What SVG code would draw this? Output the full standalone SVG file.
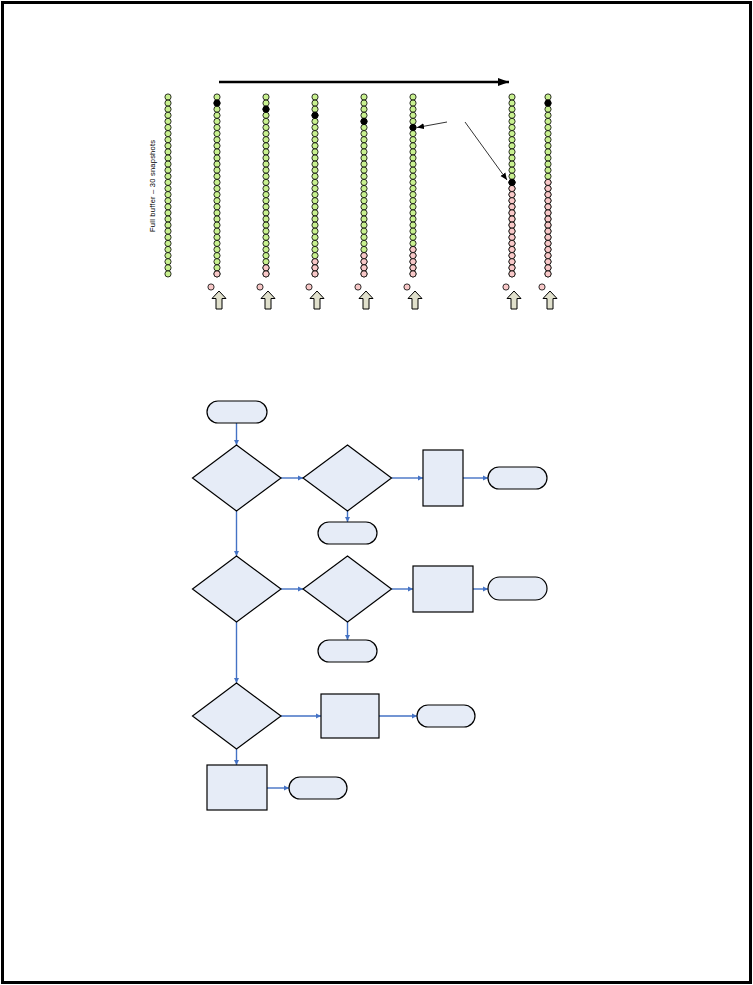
<svg xmlns="http://www.w3.org/2000/svg" xmlns:xlink="http://www.w3.org/1999/xlink" width="753" height="985" viewBox="0 0 753 985">
<style>
.g{fill:#c8f08f;stroke:#000;stroke-width:0.8}
.p{fill:#f8c8c8;stroke:#000;stroke-width:0.8}
.k{fill:#000;stroke:#000;stroke-width:0.8}
.ua{fill:#e0e0cc;stroke:#000;stroke-width:1}
.node{fill:#e6ecf7;stroke:#000;stroke-width:1.2}
.conn{stroke:#4472c4;stroke-width:1.4;fill:none;marker-end:url(#ah)}
.lbl{font-family:"Liberation Sans",Arial,sans-serif;font-size:7.5px;fill:#000}
</style>
<defs>
<marker id="ah" markerWidth="6" markerHeight="6" refX="5" refY="3" orient="auto" markerUnits="userSpaceOnUse">
<path d="M0,0.5 L5,3 L0,5.5 Z" fill="#4472c4"/>
</marker>
<marker id="bh" markerWidth="8" markerHeight="8" refX="7" refY="4" orient="auto" markerUnits="userSpaceOnUse">
<path d="M0,1 L7,4 L0,7 Z" fill="#000"/>
</marker>
<marker id="th" markerWidth="12" markerHeight="10" refX="11" refY="5" orient="auto" markerUnits="userSpaceOnUse">
<path d="M0,1 L11,5 L0,9 Z" fill="#000"/>
</marker>
<g id="col">
<circle class="g" cx="0" cy="97" r="3.1"/><circle class="g" cx="0" cy="103.1" r="3.1"/><circle class="g" cx="0" cy="109.2" r="3.1"/><circle class="g" cx="0" cy="115.3" r="3.1"/><circle class="g" cx="0" cy="121.4" r="3.1"/><circle class="g" cx="0" cy="127.5" r="3.1"/><circle class="g" cx="0" cy="133.6" r="3.1"/><circle class="g" cx="0" cy="139.7" r="3.1"/><circle class="g" cx="0" cy="145.8" r="3.1"/><circle class="g" cx="0" cy="151.9" r="3.1"/><circle class="g" cx="0" cy="158" r="3.1"/><circle class="g" cx="0" cy="164.1" r="3.1"/><circle class="g" cx="0" cy="170.2" r="3.1"/><circle class="g" cx="0" cy="176.3" r="3.1"/><circle class="g" cx="0" cy="182.4" r="3.1"/><circle class="g" cx="0" cy="188.5" r="3.1"/><circle class="g" cx="0" cy="194.6" r="3.1"/><circle class="g" cx="0" cy="200.7" r="3.1"/><circle class="g" cx="0" cy="206.8" r="3.1"/><circle class="g" cx="0" cy="212.9" r="3.1"/><circle class="g" cx="0" cy="219" r="3.1"/><circle class="g" cx="0" cy="225.1" r="3.1"/><circle class="g" cx="0" cy="231.2" r="3.1"/><circle class="g" cx="0" cy="237.3" r="3.1"/><circle class="g" cx="0" cy="243.4" r="3.1"/><circle class="g" cx="0" cy="249.5" r="3.1"/><circle class="g" cx="0" cy="255.6" r="3.1"/><circle class="g" cx="0" cy="261.7" r="3.1"/><circle class="g" cx="0" cy="267.8" r="3.1"/><circle class="g" cx="0" cy="273.9" r="3.1"/>
</g>
<g id="ptail16">
<circle class="p" cx="0" cy="182.4" r="3.1"/><circle class="p" cx="0" cy="188.5" r="3.1"/><circle class="p" cx="0" cy="194.6" r="3.1"/><circle class="p" cx="0" cy="200.7" r="3.1"/><circle class="p" cx="0" cy="206.8" r="3.1"/><circle class="p" cx="0" cy="212.9" r="3.1"/><circle class="p" cx="0" cy="219" r="3.1"/><circle class="p" cx="0" cy="225.1" r="3.1"/><circle class="p" cx="0" cy="231.2" r="3.1"/><circle class="p" cx="0" cy="237.3" r="3.1"/><circle class="p" cx="0" cy="243.4" r="3.1"/><circle class="p" cx="0" cy="249.5" r="3.1"/><circle class="p" cx="0" cy="255.6" r="3.1"/><circle class="p" cx="0" cy="261.7" r="3.1"/><circle class="p" cx="0" cy="267.8" r="3.1"/><circle class="p" cx="0" cy="273.9" r="3.1"/>
</g>
<path id="uarrow" class="ua" d="M0,0 L7,7.5 L3,7.5 L3,18 L-3,18 L-3,7.5 L-7,7.5 Z"/>
<circle id="pdot" class="p" r="3.1"/>
</defs>
<rect x="0" y="0" width="753" height="985" fill="#fff"/>
<rect x="2.5" y="2.5" width="748" height="980" fill="none" stroke="#000" stroke-width="3"/>

<g id="buffer-full">
<use href="#col" x="168"/>
<text class="lbl" transform="translate(155,186) rotate(-90)" text-anchor="middle" textLength="92" lengthAdjust="spacing">Full buffer – 30 snapshots</text>
</g>
<g id="buffer-2">
<use href="#col" x="217"/>
<circle class="k" cx="217" cy="103.1" r="3.1"/>
<circle class="p" cx="217" cy="273.9" r="3.1"/>
<use href="#pdot" x="211" y="287"/><use href="#uarrow" x="219" y="291"/>
</g>
<g id="buffer-3">
<use href="#col" x="266"/>
<circle class="k" cx="266" cy="109.2" r="3.1"/>
<circle class="p" cx="266" cy="267.8" r="3.1"/><circle class="p" cx="266" cy="273.9" r="3.1"/>
<use href="#pdot" x="260" y="287"/><use href="#uarrow" x="268" y="291"/>
</g>
<g id="buffer-4">
<use href="#col" x="315"/>
<circle class="k" cx="315" cy="115.3" r="3.1"/>
<circle class="p" cx="315" cy="261.7" r="3.1"/><circle class="p" cx="315" cy="267.8" r="3.1"/><circle class="p" cx="315" cy="273.9" r="3.1"/>
<use href="#pdot" x="309" y="287"/><use href="#uarrow" x="317" y="291"/>
</g>
<g id="buffer-5">
<use href="#col" x="364"/>
<circle class="k" cx="364" cy="121.4" r="3.1"/>
<circle class="p" cx="364" cy="255.6" r="3.1"/><circle class="p" cx="364" cy="261.7" r="3.1"/><circle class="p" cx="364" cy="267.8" r="3.1"/><circle class="p" cx="364" cy="273.9" r="3.1"/>
<use href="#pdot" x="358" y="287"/><use href="#uarrow" x="366" y="291"/>
</g>
<g id="buffer-6">
<use href="#col" x="413"/>
<circle class="k" cx="413" cy="127.5" r="3.1"/>
<circle class="p" cx="413" cy="249.5" r="3.1"/><circle class="p" cx="413" cy="255.6" r="3.1"/><circle class="p" cx="413" cy="261.7" r="3.1"/><circle class="p" cx="413" cy="267.8" r="3.1"/><circle class="p" cx="413" cy="273.9" r="3.1"/>
<use href="#pdot" x="407" y="287"/><use href="#uarrow" x="415" y="291"/>
</g>
<g id="buffer-7">
<use href="#col" x="512"/>
<use href="#ptail16" x="512"/>
<circle class="k" cx="512" cy="182.4" r="3.1"/>
<use href="#pdot" x="506" y="287"/><use href="#uarrow" x="514" y="291"/>
</g>
<g id="buffer-8">
<use href="#col" x="548"/>
<use href="#ptail16" x="548"/>
<circle class="k" cx="548" cy="103.1" r="3.1"/>
<use href="#pdot" x="542" y="287"/><use href="#uarrow" x="550" y="291"/>
</g>

<g id="pointers">
<line x1="219" y1="82" x2="509" y2="82" stroke="#000" stroke-width="2.5" marker-end="url(#th)"/>
<line x1="447" y1="122" x2="417" y2="127.5" stroke="#000" stroke-width="0.8" marker-end="url(#bh)"/>
<line x1="465" y1="122" x2="507" y2="180" stroke="#000" stroke-width="0.8" marker-end="url(#bh)"/>
</g>

<g id="connectors">
<line class="conn" x1="236.5" y1="423" x2="236.5" y2="445"/>
<line class="conn" x1="281" y1="478" x2="303" y2="478"/>
<line class="conn" x1="347.5" y1="511" x2="347.5" y2="522"/>
<line class="conn" x1="391.5" y1="478" x2="423" y2="478"/>
<line class="conn" x1="463" y1="478" x2="488" y2="478"/>
<line class="conn" x1="236.5" y1="511" x2="236.5" y2="556"/>
<line class="conn" x1="281" y1="589" x2="303" y2="589"/>
<line class="conn" x1="347.5" y1="622" x2="347.5" y2="640"/>
<line class="conn" x1="391.5" y1="589" x2="413" y2="589"/>
<line class="conn" x1="473" y1="589" x2="488" y2="589"/>
<line class="conn" x1="236.5" y1="622" x2="236.5" y2="683"/>
<line class="conn" x1="281" y1="716" x2="321" y2="716"/>
<line class="conn" x1="379" y1="716" x2="417" y2="716"/>
<line class="conn" x1="236.5" y1="749" x2="236.5" y2="765"/>
<line class="conn" x1="267" y1="788" x2="289" y2="788"/>
</g>

<g id="start"><rect class="node" x="207" y="401" width="60" height="22" rx="11"/></g>
<g id="decision-1"><path class="node" d="M236.5,445 L281,478 L236.5,511 L192.5,478 Z"/></g>
<g id="decision-2"><path class="node" d="M347.5,445 L391.5,478 L347.5,511 L303,478 Z"/></g>
<g id="end-1"><rect class="node" x="318" y="522" width="59" height="22" rx="11"/></g>
<g id="process-1"><rect class="node" x="423" y="450" width="40" height="56"/></g>
<g id="end-2"><rect class="node" x="488" y="467" width="59" height="22" rx="11"/></g>
<g id="decision-3"><path class="node" d="M236.5,556 L281,589 L236.5,622 L192.5,589 Z"/></g>
<g id="decision-4"><path class="node" d="M347.5,556 L391.5,589 L347.5,622 L303,589 Z"/></g>
<g id="end-3"><rect class="node" x="318" y="640" width="59" height="22" rx="11"/></g>
<g id="process-2"><rect class="node" x="413" y="566" width="60" height="46"/></g>
<g id="end-4"><rect class="node" x="488" y="577" width="59" height="23" rx="11.5"/></g>
<g id="decision-5"><path class="node" d="M236.5,683 L281,716 L236.5,749 L192.5,716 Z"/></g>
<g id="process-3"><rect class="node" x="321" y="694" width="58" height="44"/></g>
<g id="end-5"><rect class="node" x="417" y="705" width="58" height="22" rx="11"/></g>
<g id="process-4"><rect class="node" x="207" y="765" width="60" height="45"/></g>
<g id="end-6"><rect class="node" x="289" y="777" width="58" height="22" rx="11"/></g>
</svg>
